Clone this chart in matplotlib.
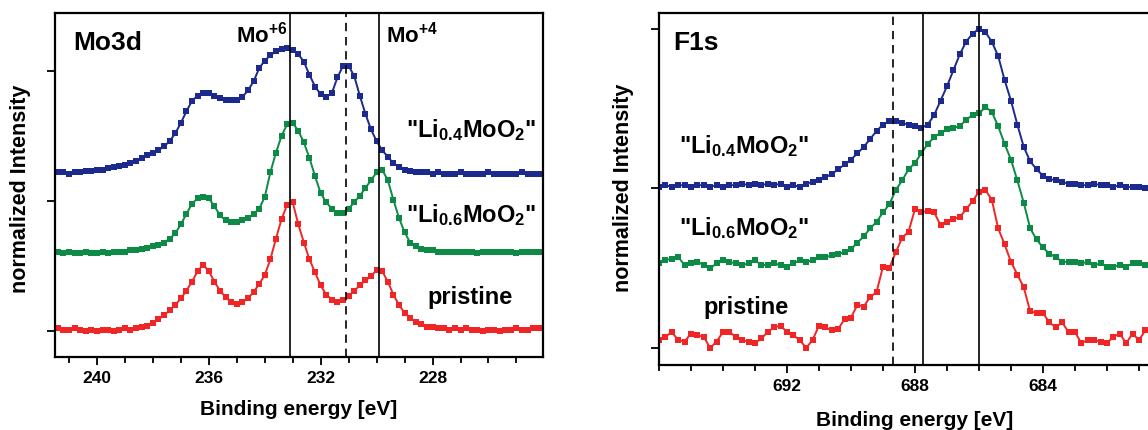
import numpy as np
import matplotlib
matplotlib.use("Agg")
import matplotlib.pyplot as plt
from matplotlib.ticker import MultipleLocator, FixedLocator

plt.rcParams['font.family'] = ['Liberation Sans', 'DejaVu Sans']
plt.rcParams['font.weight'] = 'bold'
plt.rcParams['mathtext.fontset'] = 'custom'
plt.rcParams['mathtext.rm'] = 'Liberation Sans:bold'
plt.rcParams['mathtext.it'] = 'Liberation Sans:bold'
plt.rcParams['mathtext.bf'] = 'Liberation Sans:bold'
plt.rcParams['mathtext.default'] = 'rm'

# Mo3d region, 0.2 eV steps from 241.4 eV down to 224.2 eV
mo_energy = np.round(241.4 - 0.2 * np.arange(87), 1)
mo_pristine = [
    0.02, 0.01, 0.01, 0.02, 0.01, 0.00, 0.01, 0.00, 0.01, 0.01,
    0.00, 0.01, 0.02, 0.01, 0.02, 0.03, 0.04, 0.06, 0.09, 0.12,
    0.16, 0.20, 0.25, 0.31, 0.38, 0.46, 0.51, 0.46, 0.38, 0.31,
    0.26, 0.22, 0.21, 0.22, 0.25, 0.30, 0.36, 0.43, 0.55, 0.71,
    0.86, 0.97, 0.99, 0.82, 0.68, 0.55, 0.45, 0.35, 0.28, 0.24,
    0.22, 0.24, 0.27, 0.31, 0.35, 0.39, 0.42, 0.47, 0.46, 0.38,
    0.28, 0.20, 0.14, 0.10, 0.07, 0.05, 0.03, 0.03, 0.02, 0.02,
    0.01, 0.02, 0.01, 0.02, 0.01, 0.01, 0.00, 0.01, 0.01, 0.00,
    0.01, 0.01, 0.02, 0.01, 0.01, 0.02, 0.02,
]
mo_li06 = [
    0.61, 0.60, 0.61, 0.60, 0.60, 0.61, 0.60, 0.60, 0.61, 0.60,
    0.61, 0.61, 0.61, 0.62, 0.62, 0.63, 0.64, 0.65, 0.66, 0.68,
    0.71, 0.75, 0.82, 0.90, 0.98, 1.02, 1.03, 1.02, 0.96, 0.89,
    0.85, 0.84, 0.84, 0.85, 0.87, 0.90, 0.94, 1.03, 1.22, 1.37,
    1.50, 1.59, 1.60, 1.54, 1.45, 1.33, 1.19, 1.06, 0.99, 0.94,
    0.91, 0.91, 0.94, 0.99, 1.04, 1.10, 1.16, 1.22, 1.24, 1.16,
    1.01, 0.87, 0.76, 0.68, 0.65, 0.63, 0.62, 0.62, 0.61, 0.61,
    0.61, 0.61, 0.61, 0.61, 0.61, 0.60, 0.61, 0.61, 0.61, 0.61,
    0.61, 0.61, 0.60, 0.61, 0.61, 0.61, 0.61,
]
mo_li04 = [
    1.22, 1.22, 1.21, 1.22, 1.22, 1.23, 1.23, 1.24, 1.24, 1.25,
    1.26, 1.27, 1.28, 1.29, 1.31, 1.33, 1.35, 1.37, 1.39, 1.42,
    1.46, 1.52, 1.60, 1.69, 1.77, 1.81, 1.83, 1.83, 1.81, 1.79,
    1.78, 1.78, 1.78, 1.80, 1.85, 1.92, 2.02, 2.08, 2.12, 2.15,
    2.17, 2.18, 2.16, 2.13, 2.07, 1.97, 1.88, 1.82, 1.80, 1.83,
    1.95, 2.04, 2.04, 1.96, 1.81, 1.67, 1.55, 1.46, 1.39, 1.34,
    1.29, 1.26, 1.24, 1.23, 1.22, 1.22, 1.22, 1.21, 1.22, 1.21,
    1.21, 1.21, 1.22, 1.21, 1.21, 1.21, 1.21, 1.22, 1.21, 1.21,
    1.21, 1.21, 1.21, 1.22, 1.21, 1.21, 1.21,
]
mo_lines = [233.1, 229.9]
mo_dashed = 231.1
mo_ticks = [240, 236, 232, 228]

# F1s region, 0.2 eV steps from 696.0 eV down to 680.8 eV
f_energy = np.round(696.0 - 0.2 * np.arange(77), 1)
f_pristine = [
    0.05, 0.07, 0.10, 0.05, 0.04, 0.09, 0.08, 0.07, 0.00, 0.04,
    0.10, 0.10, 0.07, 0.05, 0.04, 0.03, 0.06, 0.10, 0.13, 0.14,
    0.10, 0.08, 0.05, 0.00, 0.05, 0.14, 0.13, 0.11, 0.12, 0.18,
    0.19, 0.27, 0.26, 0.32, 0.35, 0.51, 0.50, 0.60, 0.69, 0.73,
    0.87, 0.85, 0.86, 0.85, 0.77, 0.79, 0.81, 0.82, 0.87, 0.92,
    0.98, 0.99, 0.93, 0.75, 0.65, 0.54, 0.46, 0.38, 0.23, 0.22,
    0.22, 0.16, 0.13, 0.16, 0.10, 0.10, 0.03, 0.05, 0.05, 0.04,
    0.03, 0.07, 0.09, 0.03, 0.09, 0.05, 0.11,
]
f_li06 = [
    0.53, 0.55, 0.56, 0.57, 0.52, 0.53, 0.54, 0.52, 0.50, 0.53,
    0.55, 0.54, 0.53, 0.52, 0.53, 0.55, 0.52, 0.52, 0.53, 0.52,
    0.51, 0.53, 0.55, 0.54, 0.55, 0.57, 0.57, 0.58, 0.59, 0.60,
    0.62, 0.66, 0.70, 0.75, 0.79, 0.85, 0.90, 0.99, 1.05, 1.12,
    1.16, 1.22, 1.28, 1.32, 1.35, 1.37, 1.38, 1.39, 1.43, 1.46,
    1.47, 1.51, 1.48, 1.39, 1.28, 1.18, 1.05, 0.91, 0.75, 0.68,
    0.63, 0.59, 0.57, 0.54, 0.54, 0.54, 0.53, 0.54, 0.52, 0.53,
    0.51, 0.51, 0.52, 0.51, 0.53, 0.53, 0.52,
]
f_li04 = [
    1.01, 1.02, 1.01, 1.02, 1.02, 1.01, 1.02, 1.02, 1.01, 1.02,
    1.01, 1.02, 1.02, 1.03, 1.02, 1.03, 1.02, 1.03, 1.02, 1.03,
    1.01, 1.02, 1.01, 1.03, 1.04, 1.05, 1.07, 1.09, 1.12, 1.15,
    1.18, 1.22, 1.26, 1.31, 1.36, 1.40, 1.42, 1.42, 1.41, 1.40,
    1.39, 1.38, 1.40, 1.46, 1.55, 1.64, 1.74, 1.84, 1.92, 1.97,
    2.00, 1.98, 1.92, 1.83, 1.68, 1.55, 1.40, 1.26, 1.17, 1.12,
    1.08, 1.06, 1.05, 1.04, 1.03, 1.03, 1.02, 1.02, 1.03, 1.02,
    1.02, 1.01, 1.02, 1.01, 1.01, 1.01, 1.00,
]
f_lines = [687.75, 686.0]
f_dashed = 688.7
f_ticks = [692, 688, 684]

sample_labels = ['"Li$_{0.4}$MoO$_2$"', '"Li$_{0.6}$MoO$_2$"', 'pristine']
colors = ['#1c2a8e', '#0c8a46', '#f02626']


def style_axes(ax, xlim, ylim, majors):
    ax.set_xlim(*xlim)
    ax.set_ylim(*ylim)
    ax.xaxis.set_major_locator(FixedLocator(majors))
    ax.xaxis.set_minor_locator(MultipleLocator(1))
    ax.yaxis.set_major_locator(MultipleLocator(1))
    ax.set_yticklabels([])
    ax.tick_params(axis='x', which='major', direction='out', length=6,
                   width=1.3, labelsize=12.5, pad=4)
    ax.tick_params(axis='x', which='minor', direction='out', length=4, width=1.3)
    ax.tick_params(axis='y', which='major', direction='out', length=6, width=1.3)
    for sp in ax.spines.values():
        sp.set_linewidth(1.6)
    for lab in ax.get_xticklabels():
        lab.set_fontweight('bold')


def draw_curves(ax, x, series):
    for y, c in zip(series, colors):
        ax.plot(x, y, color=c, marker='s', ms=4.0, mew=0, lw=1.4)


fig = plt.figure(figsize=(11.48, 4.30), dpi=100)

# Mo3d panel
ax1 = fig.add_axes([0.0479, 0.1698, 0.4251, 0.8])
draw_curves(ax1, mo_energy, [mo_li04, mo_li06, mo_pristine])
for e in mo_lines:
    ax1.axvline(e, color='black', lw=1.2)
ax1.axvline(mo_dashed, color='black', lw=1.2, ls=(0, (5, 3.5)))
style_axes(ax1, (241.5, 224.05), (-0.2, 2.446), mo_ticks)
ax1.set_xlabel('Binding energy [eV]', fontsize=15, fontweight='bold', labelpad=10)
ax1.set_ylabel('normalized Intensity', fontsize=15.5, fontweight='bold')
ax1.yaxis.set_label_coords(-0.049, 0.49)
ax1.text(0.037, 0.913, 'Mo3d', transform=ax1.transAxes, fontsize=19,
         fontweight='bold', ha='left', va='center')
ax1.text(233.2, 2.22, 'Mo$^{+6}$', fontsize=16, ha='right', va='baseline')
ax1.text(229.68, 2.22, 'Mo$^{+4}$', fontsize=16, ha='left', va='baseline')
ax1.text(226.64, 1.49, sample_labels[0], fontsize=17, ha='center', va='baseline')
ax1.text(226.64, 0.84, sample_labels[1], fontsize=17, ha='center', va='baseline')
ax1.text(226.64, 0.21, sample_labels[2], fontsize=17, ha='center', va='baseline')

# F1s panel, extends past the right edge of the figure
ax2 = fig.add_axes([0.574, 0.151, 0.446, 0.819])
draw_curves(ax2, f_energy, [f_li04, f_li06, f_pristine])
for e in f_lines:
    ax2.axvline(e, color='black', lw=1.2)
ax2.axvline(f_dashed, color='black', lw=1.2, ls=(0, (5, 3.5)))
style_axes(ax2, (696.0, 680.0), (-0.107, 2.10), f_ticks)
ax2.set_xlabel('Binding energy [eV]', fontsize=15, fontweight='bold', labelpad=12)
ax2.set_ylabel('normalized Intensity', fontsize=15.5, fontweight='bold')
ax2.yaxis.set_label_coords(-0.049, 0.503)
ax2.text(0.027, 0.915, 'F1s', transform=ax2.transAxes, fontsize=19,
         fontweight='bold', ha='left', va='center')
ax2.text(695.375, 1.22, sample_labels[0], fontsize=17, ha='left', va='baseline')
ax2.text(695.375, 0.71, sample_labels[1], fontsize=17, ha='left', va='baseline')
ax2.text(694.6, 0.21, sample_labels[2], fontsize=17, ha='left', va='baseline')

fig.savefig('out.png', dpi=100)
